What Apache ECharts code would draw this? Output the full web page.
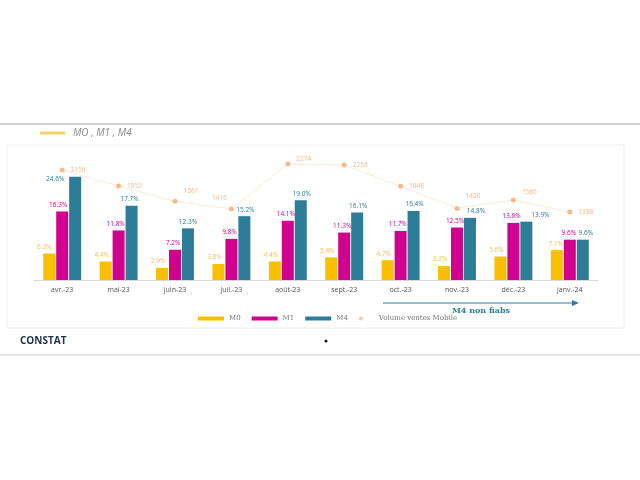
<!DOCTYPE html>
<html><head><meta charset="utf-8">
<script src="https://cdn.jsdelivr.net/npm/echarts@6/dist/echarts.min.js"></script>
<style>html,body{margin:0;padding:0;background:#fff}#c{width:640px;height:480px}</style>
</head><body><div id="c"></div>
<script>
const categories = ['avr.-23','mai-23','juin-23','juil.-23','août-23','sept.-23','oct.-23','nov.-23','déc.-23','janv.-24'];
const m0 = [6.3, 4.4, 2.9, 3.8, 4.4, 5.4, 4.7, 3.3, 5.6, 7.1];
const m1 = [16.3, 11.8, 7.2, 9.8, 14.1, 11.3, 11.7, 12.5, 13.6, 9.6];
const m4 = [24.6, 17.7, 12.3, 15.2, 19.0, 16.1, 16.4, 14.8, 13.9, 9.6];
const volume = [2159, 1852, 1561, 1416, 2274, 2253, 1848, 1426, 1586, 1358];

const chart = echarts.init(document.getElementById('c'), null, {renderer:'canvas'});
const labelFont = {fontFamily:'Open Sans', fontSize:6.5};
const m0Offsets = [[-5,0],[-4,0],[-4,0],[-4,0],[-4,0],[-4,0],[-4,0],[-4,0],[-4,0],[-1,0]];
const m1Offsets = [[-4,0],[-3,0],[-2,0],[-2,0],[-2,0],[-2,0],[-3,0],[-2,0],[-2,0],[-1,0]];
const m4Offsets = [[-20,9],[-2,0],[0,0],[1,0],[1,0],[1,0],[1,0],[6,0],[14,0],[3,0]];
const volOffsets = [[0,0],[0,0],[0,-10],[-28,-11],[0,-5],[0,0],[0,0],[0,-12],[0,-8],[0,0]];
function barSeries(name, data, color, labelColor, offsets){
  return {name, type:'bar', barWidth:12, barGap:'8%', itemStyle:{color},
    data: data.map((v,i)=>({value:v, label:{offset:offsets[i]}})),
    label:{show:true, position:'top', distance:3, color:labelColor, ...labelFont,
      formatter:p=>p.value.toFixed(1)+'%'}};
}
chart.setOption({
  animation:false,
  textStyle:{fontFamily:'Open Sans'},
  grid:{left:34, right:42, top:154, bottom:200},
  xAxis:{type:'category', data:categories,
    axisLine:{lineStyle:{color:'#d9d9d9'}}, axisTick:{show:false},
    axisLabel:{color:'#555', fontSize:7, margin:6, fontFamily:'Open Sans'}},
  yAxis:[
    {type:'value', min:0, max:30, show:false},
    {type:'value', min:58, max:2465, show:false}
  ],
  legend:{left:193, top:310, itemWidth:26, itemHeight:4, itemGap:11,
    textStyle:{fontFamily:'DejaVu Serif', fontSize:7, color:'#777'},
    data:[{name:'M0', icon:'rect'},{name:'M1', icon:'rect'},{name:'M4', icon:'rect'},
      {name:'Volume ventes Mobile', icon:'circle', itemStyle:{color:'#F6C9A6'}}]},
  series:[
    barSeries('M0', m0, '#F9BF00', '#EDBE55', m0Offsets),
    barSeries('M1', m1, '#D1008E', '#D1008E', m1Offsets),
    barSeries('M4', m4, '#2D7C98', '#2D7C98', m4Offsets),
    {name:'Volume ventes Mobile', type:'line', yAxisIndex:1,
      data: volume.map((v,i)=>({value:v, label:{offset:volOffsets[i]}})),
      symbol:'circle', symbolSize:5, itemStyle:{color:'#F6B98C'},
      lineStyle:{color:'#FCE8D8', width:1},
      label:{show:true, position:'right', distance:6, color:'#F3B88E', ...labelFont}}
  ],
  graphic:[
    {type:'line', shape:{x1:0,y1:124,x2:640,y2:124}, style:{stroke:'#cfcfcf', lineWidth:2}},
    {type:'line', shape:{x1:0,y1:355,x2:640,y2:355}, style:{stroke:'#dcdcdc', lineWidth:1.5}},
    {type:'rect', shape:{x:7,y:145,width:617,height:183}, style:{fill:'none', stroke:'#eeeeee', lineWidth:1}, z:-1},
    {type:'line', shape:{x1:40,y1:133,x2:65,y2:133}, style:{stroke:'#F5D06A', lineWidth:3}},
    {type:'text', x:73, y:133, style:{text:'MO , M1 , M4', fill:'#8a8a8a', fontSize:10, fontStyle:'italic', fontFamily:'Open Sans', verticalAlign:'middle'}},
    {type:'line', shape:{x1:383,y1:303,x2:573,y2:303}, style:{stroke:'#2D7C98', lineWidth:1.2}},
    {type:'polygon', shape:{points:[[572,300],[579,303],[572,306]]}, style:{fill:'#2D7C98'}},
    {type:'text', x:481, y:311, style:{text:'M4 non fiabs', fill:'#2D7C98', fontSize:8, fontWeight:'bold', fontFamily:'DejaVu Serif', align:'center', verticalAlign:'middle'}},
    {type:'text', x:20, y:341, style:{text:'CONSTAT', fill:'#1F2D4D', fontSize:10, fontWeight:'bold', fontFamily:'Open Sans', verticalAlign:'middle'}},
    {type:'circle', shape:{cx:326, cy:341, r:1.5}, style:{fill:'#111'}}
  ]
});
</script></body></html>
